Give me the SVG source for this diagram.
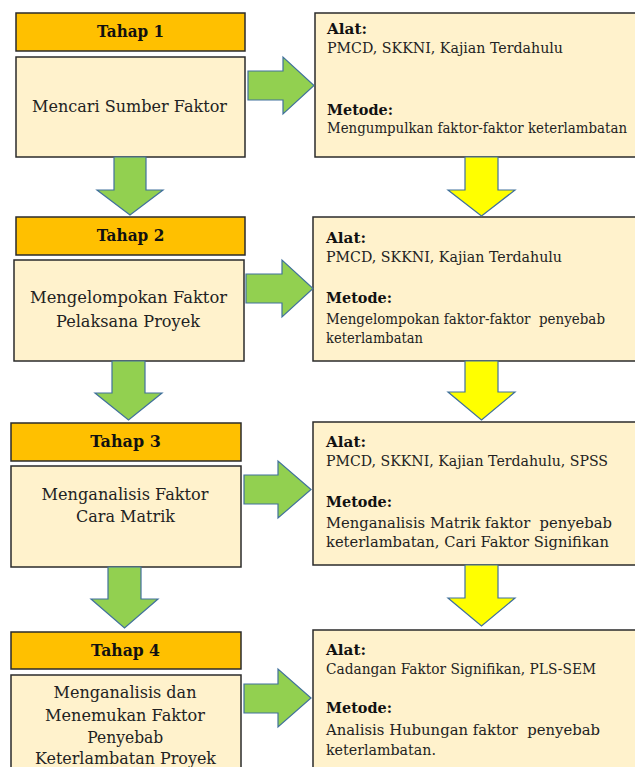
<svg xmlns="http://www.w3.org/2000/svg" width="635" height="767" viewBox="0 0 635 767">
<style>
.hdr{fill:#FFC000;stroke:#2b2b2b;stroke-width:1.5}
.box{fill:#FFF2CC;stroke:#2b2b2b;stroke-width:1.5}
.ga{fill:#92D050;stroke:#41719C;stroke-width:1.2;stroke-linejoin:miter}
.ya{fill:#FFFF00;stroke:#41719C;stroke-width:1.2;stroke-linejoin:miter}
text{font-family:'DejaVu Serif','Liberation Serif',serif}
.ht{font-weight:bold;font-size:16.5px;fill:#111;text-anchor:middle}
.mt{font-size:16.5px;fill:#222;text-anchor:middle}
.rt{font-size:14px;fill:#222;white-space:pre}
.rb{font-weight:bold;fill:#111}
</style>
<rect width="635" height="767" fill="#ffffff"/>
<g id="tahap1">
<rect class="hdr" x="16" y="13" width="229" height="38"/>
<text class="ht" x="130.5" y="37" textLength="67" lengthAdjust="spacingAndGlyphs">Tahap 1</text>
<rect class="box" x="16" y="57" width="229" height="100"/>
<text class="mt" x="129.5" y="111.5" textLength="195" lengthAdjust="spacingAndGlyphs">Mencari Sumber Faktor</text>
</g>
<g id="ket1">
<rect class="box" x="315" y="13" width="330" height="144"/>
<text class="rt rb" x="327" y="33.5" textLength="40" lengthAdjust="spacingAndGlyphs">Alat:</text>
<text class="rt" x="327" y="52.5" textLength="236" lengthAdjust="spacingAndGlyphs">PMCD, SKKNI, Kajian Terdahulu</text>
<text class="rt rb" x="327" y="114.5" textLength="66" lengthAdjust="spacingAndGlyphs">Metode:</text>
<text class="rt" x="327" y="133" textLength="300" lengthAdjust="spacingAndGlyphs">Mengumpulkan faktor-faktor keterlambatan</text>
</g>
<g id="tahap2">
<rect class="hdr" x="16" y="217" width="229" height="38"/>
<text class="ht" x="130.5" y="240.5" textLength="67.6" lengthAdjust="spacingAndGlyphs">Tahap 2</text>
<rect class="box" x="14" y="260" width="230" height="101"/>
<text class="mt" x="128.5" y="303" textLength="197" lengthAdjust="spacingAndGlyphs">Mengelompokan Faktor</text>
<text class="mt" x="128" y="327" textLength="144" lengthAdjust="spacingAndGlyphs">Pelaksana Proyek</text>
</g>
<g id="ket2">
<rect class="box" x="313" y="217" width="330" height="144"/>
<text class="rt rb" x="326" y="243" textLength="40" lengthAdjust="spacingAndGlyphs">Alat:</text>
<text class="rt" x="326" y="262" textLength="236" lengthAdjust="spacingAndGlyphs">PMCD, SKKNI, Kajian Terdahulu</text>
<text class="rt rb" x="326" y="303" textLength="66" lengthAdjust="spacingAndGlyphs">Metode:</text>
<text class="rt" x="326" y="324" textLength="279" lengthAdjust="spacingAndGlyphs">Mengelompokan faktor-faktor  penyebab</text>
<text class="rt" x="326" y="342.5" textLength="97" lengthAdjust="spacingAndGlyphs">keterlambatan</text>
</g>
<g id="tahap3">
<rect class="hdr" x="11" y="423" width="230" height="38"/>
<text class="ht" x="125.5" y="446.5" textLength="70.5" lengthAdjust="spacingAndGlyphs">Tahap 3</text>
<rect class="box" x="11" y="466" width="230" height="101"/>
<text class="mt" x="125" y="500" textLength="167" lengthAdjust="spacingAndGlyphs">Menganalisis Faktor</text>
<text class="mt" x="125.5" y="522" textLength="99" lengthAdjust="spacingAndGlyphs">Cara Matrik</text>
</g>
<g id="ket3">
<rect class="box" x="313" y="422" width="330" height="143"/>
<text class="rt rb" x="326" y="447" textLength="40" lengthAdjust="spacingAndGlyphs">Alat:</text>
<text class="rt" x="326" y="466" textLength="282" lengthAdjust="spacingAndGlyphs">PMCD, SKKNI, Kajian Terdahulu, SPSS</text>
<text class="rt rb" x="326" y="507" textLength="66" lengthAdjust="spacingAndGlyphs">Metode:</text>
<text class="rt" x="326" y="528" textLength="286" lengthAdjust="spacingAndGlyphs">Menganalisis Matrik faktor  penyebab</text>
<text class="rt" x="326" y="547" textLength="283" lengthAdjust="spacingAndGlyphs">keterlambatan, Cari Faktor Signifikan</text>
</g>
<g id="tahap4">
<rect class="hdr" x="11" y="632" width="230" height="37"/>
<text class="ht" x="125.5" y="655.5" textLength="69" lengthAdjust="spacingAndGlyphs">Tahap 4</text>
<rect class="box" x="11" y="675" width="230" height="100"/>
<text class="mt" x="125" y="698" textLength="143" lengthAdjust="spacingAndGlyphs">Menganalisis dan</text>
<text class="mt" x="125" y="721" textLength="160" lengthAdjust="spacingAndGlyphs">Menemukan Faktor</text>
<text class="mt" x="125.3" y="743" textLength="76" lengthAdjust="spacingAndGlyphs">Penyebab</text>
<text class="mt" x="125.5" y="764" textLength="181" lengthAdjust="spacingAndGlyphs">Keterlambatan Proyek</text>
</g>
<g id="ket4">
<rect class="box" x="313" y="630" width="330" height="145"/>
<text class="rt rb" x="326" y="655" textLength="40" lengthAdjust="spacingAndGlyphs">Alat:</text>
<text class="rt" x="326" y="674" textLength="270" lengthAdjust="spacingAndGlyphs">Cadangan Faktor Signifikan, PLS-SEM</text>
<text class="rt rb" x="326" y="713" textLength="66" lengthAdjust="spacingAndGlyphs">Metode:</text>
<text class="rt" x="326" y="735" textLength="274" lengthAdjust="spacingAndGlyphs">Analisis Hubungan faktor  penyebab</text>
<text class="rt" x="326" y="755" textLength="110" lengthAdjust="spacingAndGlyphs">keterlambatan.</text>
</g>
<g id="connectors">
<polygon class="ga" points="248,71 283,71 283,57 314,85.5 283,114 283,100 248,100"/>
<polygon class="ga" points="246,274 282,274 282,260 313,288.5 282,317 282,303 246,303"/>
<polygon class="ga" points="244,475 278,475 278,461 311,489.5 278,518 278,504 244,504"/>
<polygon class="ga" points="244,684 278,684 278,669 311,698 278,727 278,713 244,713"/>
<polygon class="ga" points="114,157 146,157 146,190 163,190 130,215 97,190 114,190"/>
<polygon class="ga" points="112,361 145,361 145,393 162,393 128.5,420 95,393 112,393"/>
<polygon class="ga" points="108,567 141,567 141,599 158,599 124.5,628 91,599 108,599"/>
<polygon class="ya" points="465,157 498,157 498,190 515,190 481.5,216 448,190 465,190"/>
<polygon class="ya" points="465,361 498,361 498,392 515,392 481.5,420 448,392 465,392"/>
<polygon class="ya" points="465,565 498,565 498,598 515,598 481.5,626 448,598 465,598"/>
</g>
</svg>
